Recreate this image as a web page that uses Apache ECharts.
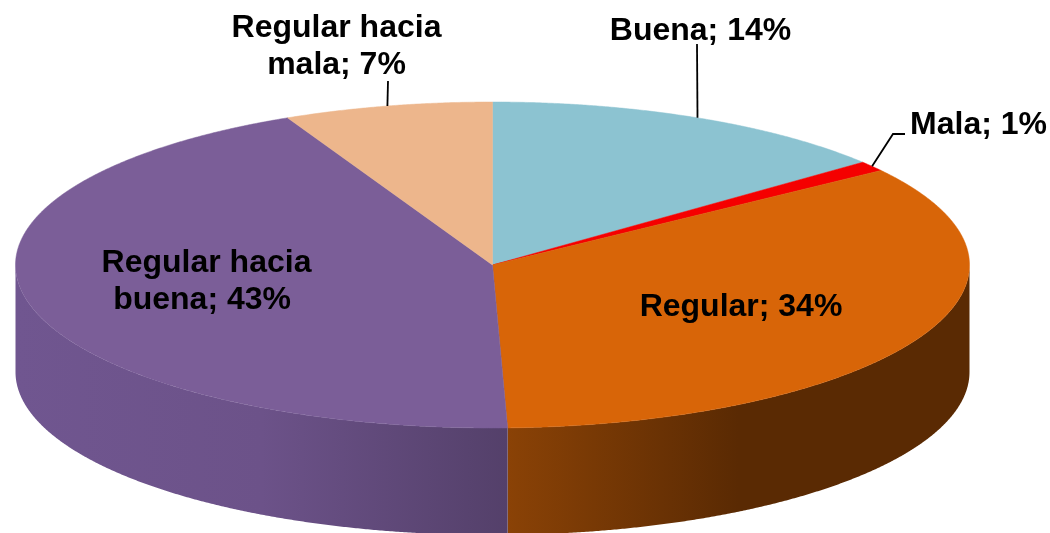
<!DOCTYPE html>
<html>
<head>
<meta charset="utf-8">
<script src="https://cdn.jsdelivr.net/npm/echarts@6/dist/echarts.min.js"></script>
<style>
  html, body { margin: 0; padding: 0; background: #fff; }
  #main { width: 1050px; height: 533px; }
</style>
</head>
<body>
<div id="main"></div>
<script>
var categories = ["Buena", "Mala", "Regular", "Regular hacia buena", "Regular hacia mala"];
var percents = [14, 1, 34, 43, 7];
var topColors = ["#8CC3D1", "#F50000", "#D86508", "#7B5E98", "#EDB68C"];
var wallStops = [
  [[0, "#5a7f88"], [1, "#5a7f88"]],
  [[0, "#a00000"], [1, "#a00000"]],
  [[0, "#8A4206"], [0.5, "#5A2A03"], [1, "#5A2A03"]],
  [[0, "#705690"], [0.5, "#6C5289"], [1, "#54406A"]],
  [[0, "#9a7658"], [1, "#9a7658"]]
];

// pie geometry, the disc is an ellipse lying on its side
var cx = 492.5;
var cy = 265;
var rx = 477;
var ry = 163;
var depth = 107;

// where the labels go, lead is the end of the leader line (none = label sits on the slice)
// tail pads the last line, the original centres that line a bit to the left
var labelLayout = [
  { x: 700.5, y: 31, lead: [[697, 44]] },
  { x: 978.5, y: 125, lead: [[893, 134], [905, 134]] },
  { x: 741, y: 307 },
  { x: 206.5, y: 282, tail: " " },
  { x: 336.5, y: 47, lead: [[388, 81]] }
];

var total = percents.reduce(function (a, b) { return a + b; }, 0);

// angle is clockwise from the top of the pie, in degrees
function rimPoint(deg, dy) {
  var t = deg * Math.PI / 180;
  return [cx + rx * Math.sin(t), cy - ry * Math.cos(t) + (dy || 0)];
}

function arcPoints(from, to, dy) {
  var pts = [];
  var n = Math.max(2, Math.ceil(Math.abs(to - from) * 4));
  for (var i = 0; i <= n; i++) {
    pts.push(rimPoint(from + (to - from) * i / n, dy));
  }
  return pts;
}

function labelText(i) {
  var name = categories[i].replace(" hacia ", " hacia\n");
  return name + "; " + percents[i] + "%" + (labelLayout[i].tail || "");
}

function renderSlice(params, api) {
  var i = params.dataIndex;
  var before = 0;
  for (var k = 0; k < i; k++) before += percents[k];
  var from = before / total * 360;
  var to = (before + api.value(0)) / total * 360;
  var children = [];

  // side wall only shows on the front half
  var wFrom = Math.max(from, 90);
  var wTo = Math.min(to, 270);
  if (wTo > wFrom) {
    children.push({
      type: "polygon",
      shape: { points: arcPoints(wFrom, wTo, 0).concat(arcPoints(wTo, wFrom, depth)) },
      style: {
        fill: {
          type: "linear", x: 0, y: 0, x2: 1, y2: 0,
          colorStops: wallStops[i].map(function (s) { return { offset: s[0], color: s[1] }; })
        }
      }
    });
  }

  children.push({
    type: "polygon",
    shape: { points: [[cx, cy]].concat(arcPoints(from, to, 0)) },
    style: { fill: topColors[i], stroke: topColors[i], lineWidth: 0.5 }
  });

  var layout = labelLayout[i];
  if (layout.lead) {
    children.push({
      type: "polyline",
      shape: { points: [rimPoint((from + to) / 2, 0)].concat(layout.lead) },
      style: { fill: null, stroke: "#000", lineWidth: 1.8 }
    });
  }
  children.push({
    type: "text",
    z2: 10,
    style: {
      text: labelText(i),
      x: layout.x,
      y: layout.y,
      align: "center",
      verticalAlign: "middle",
      fill: "#000",
      font: "bold 32px 'Liberation Sans', Arial, sans-serif",
      lineHeight: 37
    }
  });
  return { type: "group", children: children };
}

var myChart = echarts.init(document.getElementById("main"));
myChart.setOption({
  animation: false,
  backgroundColor: "#fff",
  series: [
    {
      type: "custom",
      coordinateSystem: "none",
      renderItem: renderSlice,
      data: percents.map(function (v) { return [v]; })
    }
  ]
});
</script>
</body>
</html>
